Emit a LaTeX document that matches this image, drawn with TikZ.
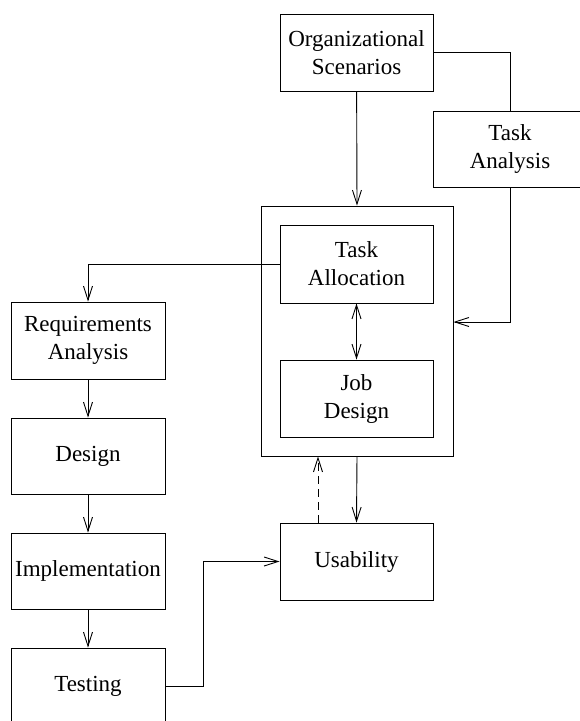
\documentclass[tikz,border=0pt]{standalone}
\usepackage{fontspec}
\setmainfont{Liberation Serif}
\usetikzlibrary{arrows.meta}
\begin{document}
\begin{tikzpicture}[x=1pt,y=-1pt,
  line width=0.9pt,
  every node/.style={font=\fontsize{23}{28}\selectfont},
  box/.style={draw,align=center,inner sep=0pt,minimum width=#1,minimum height=77pt},
  box/.default=153pt,
  arr/.style={-{Straight Barb[length=14pt,width=9pt]}},
  dbl/.style={{Straight Barb[length=14pt,width=9pt]}-{Straight Barb[length=14pt,width=9pt]}},
  fb/.style={arr,dash pattern=on 8pt off 5pt}]
\useasboundingbox (0,0) rectangle (579,721);

% central allocation block
\node[draw,minimum width=192pt,minimum height=250pt] (outer) at (357,331) {};
\node[box,minimum height=78pt] (talloc) at (356.5,264) {Task\\Allocation};
\node[box] (jdes) at (356.5,398.5) {Job\\Design};

% inputs
\node[box] (org) at (356.5,52.5) {Organizational\\Scenarios};
\node[box=154pt,minimum height=76pt] (tana) at (510,149) {Task\\Analysis};

% development life cycle
\node[box=154pt] (req) at (88,340.5) {Requirements\\Analysis};
\node[box=154pt,minimum height=76pt] (des) at (88,456) {Design};
\node[box=154pt,minimum height=76pt] (impl) at (88,571) {Implementation};
\node[box=154pt] (test) at (88,686.5) {Testing};

\node[box] (usab) at (356.5,561.5) {Usability};

% connectors
\draw[arr] (org) -- (outer.north);
\draw (org.east) -| (tana.north);
\draw[arr] (tana.south) |- ([yshift=9pt]outer.east);
\draw[arr] (talloc.west) -| (req.north);
\draw[dbl] (talloc) -- (jdes);
\draw[arr] (req) -- (des);
\draw[arr] (des) -- (impl);
\draw[arr] (impl) -- (test);
\draw[arr] (outer.south) -- (usab.north);
\draw[fb] ([xshift=-38.5pt]usab.north) -- ([xshift=-38.5pt]usab.north |- outer.south);
\draw[arr] (test.east) -- ++(38,0) |- (usab.west);
\end{tikzpicture}
\end{document}
